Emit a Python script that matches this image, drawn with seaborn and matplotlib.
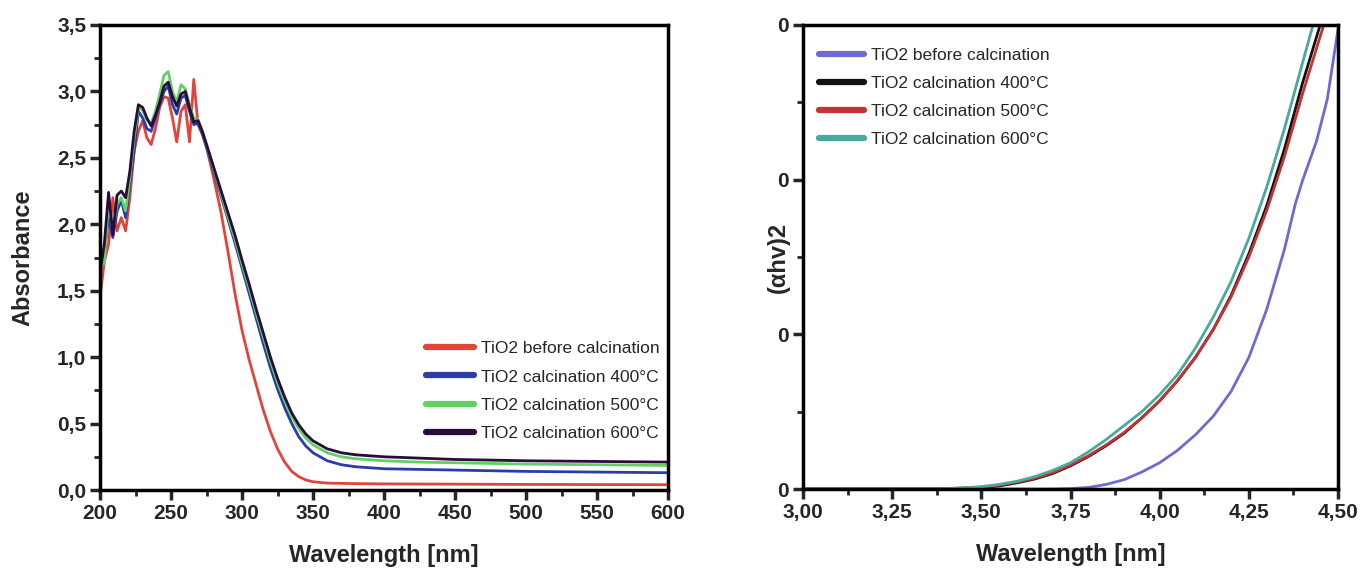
import matplotlib
matplotlib.use("Agg")
import matplotlib.pyplot as plt
from matplotlib.ticker import FuncFormatter, MultipleLocator
import seaborn as sns

# --- left panel: UV-vis absorbance ---
wavelength = [200, 203, 206, 209, 212, 215, 218, 221, 224, 227, 230, 233, 236, 239,
              242, 245, 248, 251, 254, 257, 260, 263, 266, 269, 272, 275, 280, 285,
              290, 295, 300, 305, 310, 315, 320, 325, 330, 335, 340, 345, 350, 360,
              370, 380, 400, 425, 450, 500, 550, 600]

abs_before = [1.45, 1.72, 1.85, 2.20, 1.95, 2.05, 1.95, 2.20, 2.55, 2.70, 2.78, 2.65,
              2.60, 2.72, 2.88, 2.96, 2.95, 2.80, 2.62, 2.85, 2.90, 2.62, 3.09, 2.75,
              2.68, 2.58, 2.35, 2.10, 1.80, 1.48, 1.20, 0.98, 0.79, 0.60, 0.44, 0.31,
              0.21, 0.14, 0.10, 0.075, 0.062, 0.052, 0.050, 0.048, 0.046, 0.045,
              0.044, 0.042, 0.041, 0.040]
abs_400 = [1.70, 1.78, 2.05, 1.90, 2.10, 2.18, 2.05, 2.30, 2.55, 2.85, 2.80, 2.72,
           2.70, 2.80, 2.90, 3.00, 3.04, 2.90, 2.83, 2.95, 2.97, 2.85, 2.75, 2.76,
           2.68, 2.58, 2.40, 2.22, 2.04, 1.86, 1.67, 1.48, 1.29, 1.10, 0.92, 0.76,
           0.62, 0.50, 0.40, 0.33, 0.28, 0.22, 0.19, 0.175, 0.16, 0.155, 0.15,
           0.14, 0.135, 0.13]
abs_500 = [1.78, 1.70, 2.18, 1.95, 2.15, 2.20, 2.10, 2.35, 2.65, 2.88, 2.86, 2.78,
           2.76, 2.85, 2.98, 3.12, 3.15, 3.00, 2.92, 3.05, 3.02, 2.90, 2.80, 2.79,
           2.70, 2.60, 2.42, 2.24, 2.06, 1.89, 1.70, 1.52, 1.33, 1.15, 0.97, 0.81,
           0.67, 0.55, 0.46, 0.39, 0.34, 0.28, 0.25, 0.235, 0.22, 0.21, 0.205,
           0.195, 0.19, 0.185]
abs_600 = [1.64, 1.85, 2.24, 1.92, 2.22, 2.25, 2.20, 2.40, 2.70, 2.90, 2.88, 2.80,
           2.74, 2.82, 2.92, 3.04, 3.07, 2.96, 2.89, 2.98, 3.00, 2.88, 2.77, 2.78,
           2.70, 2.60, 2.43, 2.26, 2.09, 1.92, 1.73, 1.55, 1.36, 1.18, 1.00, 0.84,
           0.70, 0.58, 0.49, 0.42, 0.37, 0.31, 0.28, 0.265, 0.25, 0.24, 0.23,
           0.22, 0.215, 0.21]

# --- right panel: Tauc plot ---
energy_before = [3.00, 3.70, 3.75, 3.80, 3.85, 3.90, 3.95, 4.00, 4.05, 4.10, 4.15,
                 4.20, 4.25, 4.30, 4.35, 4.38, 4.40, 4.44, 4.47, 4.50]
tauc_before = [0.0, 0.0, 0.003, 0.01, 0.03, 0.06, 0.11, 0.17, 0.25, 0.35, 0.47,
               0.63, 0.85, 1.16, 1.55, 1.84, 1.99, 2.25, 2.52, 2.97]
energy_400 = [3.00, 3.35, 3.45, 3.50, 3.55, 3.60, 3.65, 3.70, 3.75, 3.80, 3.85, 3.90,
              3.95, 4.00, 4.05, 4.10, 4.15, 4.20, 4.25, 4.30, 4.35, 4.40, 4.45]
tauc_400 = [0.0, 0.0, 0.005, 0.01, 0.02, 0.04, 0.065, 0.10, 0.15, 0.21, 0.28, 0.36,
            0.46, 0.57, 0.70, 0.85, 1.03, 1.25, 1.52, 1.83, 2.20, 2.62, 3.0]
energy_500 = [3.00, 3.35, 3.45, 3.50, 3.55, 3.60, 3.65, 3.70, 3.75, 3.80, 3.85, 3.90,
              3.95, 4.00, 4.05, 4.10, 4.15, 4.20, 4.25, 4.30, 4.35, 4.40, 4.46]
tauc_500 = [0.0, 0.0, 0.006, 0.012, 0.025, 0.045, 0.07, 0.105, 0.155, 0.215, 0.285,
            0.365, 0.46, 0.57, 0.70, 0.85, 1.03, 1.24, 1.50, 1.80, 2.15, 2.55, 3.0]
energy_600 = [3.00, 3.30, 3.40, 3.45, 3.50, 3.55, 3.60, 3.65, 3.70, 3.75, 3.80, 3.85,
              3.90, 3.95, 4.00, 4.05, 4.10, 4.15, 4.20, 4.25, 4.30, 4.35, 4.40, 4.43]
tauc_600 = [0.0, 0.0, 0.003, 0.008, 0.015, 0.03, 0.05, 0.08, 0.12, 0.17, 0.24, 0.32,
            0.41, 0.50, 0.61, 0.74, 0.91, 1.11, 1.34, 1.62, 1.95, 2.33, 2.75, 3.0]

labels = ["TiO2 before calcination", "TiO2 calcination 400°C",
          "TiO2 calcination 500°C", "TiO2 calcination 600°C"]

sns.set_style("ticks")
plt.rcParams["font.family"] = ["Liberation Sans", "DejaVu Sans"]

fig = plt.figure(figsize=(13.65, 5.76), dpi=100)
ax1 = fig.add_axes([0.0733, 0.1493, 0.4161, 0.8073])
ax2 = fig.add_axes([0.5883, 0.1510, 0.3919, 0.8056])

left_colors = ["#e0443c", "#2a3ca8", "#62d062", "#2a0c38"]
for vals, col, lab in zip([abs_before, abs_400, abs_500, abs_600], left_colors, labels):
    sns.lineplot(x=wavelength, y=vals, ax=ax1, color=col, label=lab, linewidth=2)

right_colors = ["#6c6cd0", "#111111", "#c23434", "#4aa89e"]
right_series = [(energy_before, tauc_before), (energy_400, tauc_400),
                (energy_500, tauc_500), (energy_600, tauc_600)]
for (e, t), col, lab in zip(right_series, right_colors, labels):
    sns.lineplot(x=e, y=t, ax=ax2, color=col, label=lab, linewidth=2)


def comma(fmt):
    return FuncFormatter(lambda v, p: format(v, fmt).replace(".", ","))


ax1.set_xlim(200, 600)
ax1.set_ylim(0, 3.5)
ax1.xaxis.set_major_locator(MultipleLocator(50))
ax1.xaxis.set_minor_locator(MultipleLocator(25))
ax1.yaxis.set_major_locator(MultipleLocator(0.5))
ax1.yaxis.set_minor_locator(MultipleLocator(0.25))
ax1.yaxis.set_major_formatter(comma(".1f"))
ax1.set_xlabel("Wavelength [nm]", fontsize=17, fontweight="bold", labelpad=15)
ax1.set_ylabel("Absorbance", fontsize=17, fontweight="bold", labelpad=16)

ax2.set_xlim(3.0, 4.5)
ax2.set_ylim(0, 3)
ax2.xaxis.set_major_locator(MultipleLocator(0.25))
ax2.xaxis.set_minor_locator(MultipleLocator(0.125))
ax2.xaxis.set_major_formatter(comma(".2f"))
ax2.yaxis.set_major_locator(MultipleLocator(1))
ax2.yaxis.set_minor_locator(MultipleLocator(0.5))
ax2.yaxis.set_major_formatter(FuncFormatter(lambda v, p: "0"))
ax2.set_xlabel("Wavelength [nm]", fontsize=17, fontweight="bold", labelpad=15)
ax2.set_ylabel("(αhv)2", fontsize=17, fontweight="bold")
ax2.yaxis.set_label_coords(-0.025, 0.5)

for ax in (ax1, ax2):
    for sp in ax.spines.values():
        sp.set_visible(True)
        sp.set_linewidth(2.5)
        sp.set_color("black")
    ax.tick_params(which="major", length=7, width=2.5, labelsize=15, pad=3)
    ax.tick_params(which="minor", length=4, width=2)
    for t in ax.get_xticklabels() + ax.get_yticklabels():
        t.set_fontweight("bold")

leg1 = ax1.legend(loc="lower right", bbox_to_anchor=(1.013, 0.072), frameon=False,
                  fontsize=12.5, handlelength=2.8, handletextpad=0.4, labelspacing=0.75)
leg2 = ax2.legend(loc="upper left", bbox_to_anchor=(0.0, 0.985), frameon=False,
                  fontsize=12.5, handlelength=2.6, handletextpad=0.4, labelspacing=0.75)
for leg in (leg1, leg2):
    for h in leg.get_lines():
        h.set_linewidth(4.5)

fig.savefig("out.png", dpi=100)
